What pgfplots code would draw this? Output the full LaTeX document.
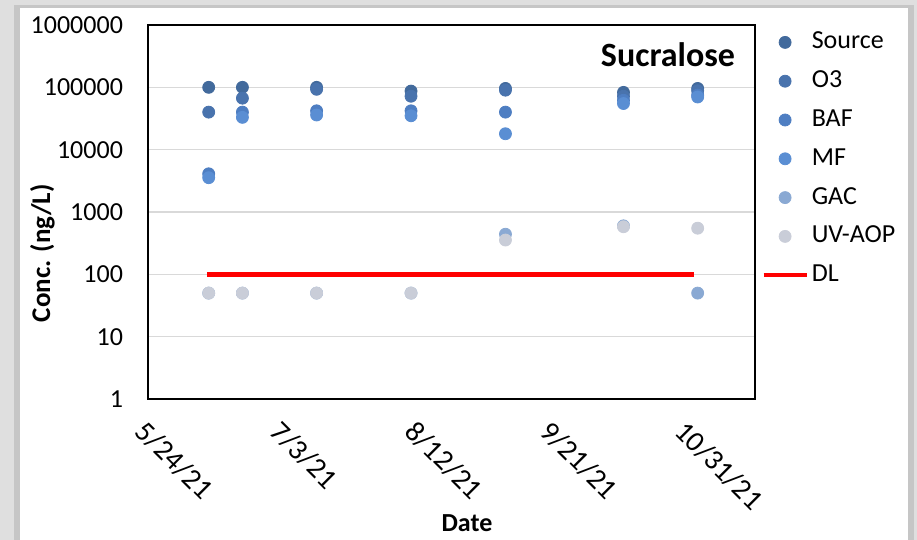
\documentclass[border=0pt]{standalone}
\usepackage{fontspec}
\setmainfont{Carlito}
\usepackage{pgfplots}
\usepackage{pgfplotstable}
\pgfplotsset{compat=1.18}
\definecolor{cSrc}{HTML}{426A9C}
\definecolor{cO3}{HTML}{4973AD}
\definecolor{cBAF}{HTML}{4E7EC2}
\definecolor{cMF}{HTML}{5A8ED3}
\definecolor{cGAC}{HTML}{8AA9D3}
\definecolor{cUV}{HTML}{C9CDD8}
\definecolor{cGrid}{HTML}{D9D9D9}
% x = days after 5/24/21
\pgfplotstableread{
x y
18 100000
28 100000
50 100000
78 87000
106 96000
141 83000
163 96000
}\tSrc
\pgfplotstableread{
x y
18 40000
28 67000
50 93000
78 72000
106 90000
141 72000
163 88000
}\tOthree
\pgfplotstableread{
x y
18 4100
28 40000
50 42000
78 42000
106 40000
141 62000
163 75000
}\tBAF
\pgfplotstableread{
x y
18 3550
28 33000
50 36000
78 35000
106 18000
141 55000
163 70000
}\tMF
\pgfplotstableread{
x y
18 50
28 50
50 50
78 50
106 440
141 600
163 50
}\tGAC
\pgfplotstableread{
x y
18 50
28 50
50 50
78 50
106 355
141 580
163 550
}\tUV
\begin{document}
\begin{tikzpicture}
\fill[gray!25] (-74pt,-70.5pt) rectangle (384.5pt,199.5pt);
\fill[gray!45] (-67pt,-70.5pt) rectangle (383pt,197pt);
\fill[white] (-64pt,-70.5pt) rectangle (380pt,195.5pt);
\begin{axis}[
  scale only axis, width=303.5pt, height=187pt,
  xmin=0, xmax=180, ymode=log, ymin=1, ymax=1e6,
  xtick={0,40,80,120,160},
  xticklabels={5/24/21,7/3/21,8/12/21,9/21/21,10/31/21},
  ytick={1,10,100,1000,10000,100000,1000000},
  yticklabels={1,10,100,1000,10000,100000,1000000},
  yminorticks=false, major tick length=0pt,
  ymajorgrids, grid style={draw=cGrid, line width=0.6pt},
  axis line style={line width=1.2pt},
  axis background/.style={fill=white},
  yticklabel style={xshift=-9pt, font=\fontsize{13}{15}\selectfont},
  xticklabel style={rotate=-45, anchor=north west, font=\fontsize{14.5}{16}\selectfont},
  xticklabel shift=5pt,
  xlabel={\textbf{Date}},
  ylabel={\textbf{Conc. (ng/L)}},
  xlabel style={at={(rel axis cs:0.5,0)}, anchor=center, xshift=7.75pt, yshift=-62pt, font=\fontsize{13}{15}\selectfont},
  ylabel style={at={(rel axis cs:0,0.39)}, anchor=center, yshift=52.75pt, font=\fontsize{13.5}{15}\selectfont},
  legend cell align=left,
  legend image code/.code={\draw[mark repeat=2,mark phase=2,#1] plot coordinates {(0pt,0pt) (10.75pt,0pt) (21.5pt,0pt)};},
  legend style={at={(rel axis cs:1,1)}, anchor=north west, xshift=3pt, yshift=-1.25pt,
    draw=none, fill=none, inner sep=0pt, font=\fontsize{13}{15}\selectfont,
    row sep=4.9pt, column sep=0.5pt,
    nodes={inner sep=1pt, text height=9.5pt, text depth=3pt}},
  every axis plot/.append style={mark size=3pt},
]
\addplot[only marks, mark=*, color=cSrc] table {\tSrc};
\addlegendentry{Source}
\addplot[only marks, mark=*, color=cO3] table {\tOthree};
\addlegendentry{O3}
\addplot[only marks, mark=*, color=cBAF] table {\tBAF};
\addlegendentry{BAF}
\addplot[only marks, mark=*, color=cMF] table {\tMF};
\addlegendentry{MF}
\addplot[only marks, mark=*, color=cGAC] table {\tGAC};
\addlegendentry{GAC}
\addplot[only marks, mark=*, color=cUV] table {\tUV};
\addlegendentry{UV-AOP}
\addplot[red, line width=2.2pt] coordinates {(17.5,100) (162,100)};
\addlegendentry{DL}
\node[anchor=base east, font=\bfseries\fontsize{17}{20}\selectfont] at (rel axis cs:1,1) [xshift=-6.5pt, yshift=-21pt] {Sucralose};
\end{axis}
\end{tikzpicture}
\end{document}
